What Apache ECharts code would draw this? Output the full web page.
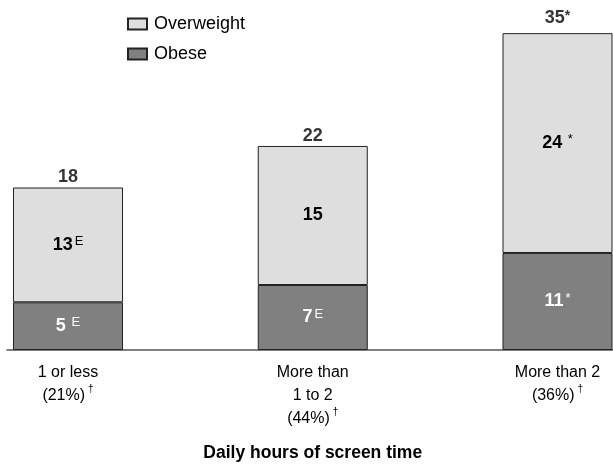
<!DOCTYPE html>
<html>
<head>
<meta charset="utf-8">
<script src="https://cdn.jsdelivr.net/npm/echarts@6/dist/echarts.min.js"></script>
<style>
html,body{margin:0;padding:0;background:#fff;}
#c{width:613px;height:464px;}
</style>
</head>
<body>
<div id="c"></div>
<script>
// ---- data ----
const categoryLines = [['1 or less', '(21%)'], ['More than', '1 to 2', '(44%)'], ['More than 2', '(36%)']];
const categoryMarks = ['†', '†', '†'];
const obese = [5.27, 7.18, 10.72];
const overweight = [12.68, 15.36, 24.28];
const totals = [17.95, 22.54, 35.0];
const obeseLabels = ['5', '7', '11'];
const obeseMarks = [' E', 'E', '*'];
const overweightLabels = ['13', '15', '24'];
const overweightMarks = ['E', '', ' *'];
const totalLabels = ['18', '22', '35'];
const totalMarks = ['', '', '*'];
const seriesNames = ['Overweight', 'Obese'];
const axisTitle = 'Daily hours of screen time';

const FONT = "'Liberation Sans Narrow', 'Liberation Sans', Arial, sans-serif";
const catIds = categoryLines.map((l, i) => 'c' + i);

const chart = echarts.init(document.getElementById('c'), null, {renderer: 'canvas'});

function numRich(color) {
  return {
    n: {fontFamily: FONT, fontSize: 18, fontWeight: 'bold', color: color, lineHeight: 20},
    s: {fontFamily: FONT, fontSize: 13, color: color, verticalAlign: 'top', lineHeight: 13, padding: [0, 0, 0, 2]}
  };
}

const option = {
  animation: false,
  backgroundColor: '#ffffff',
  legend: {
    orient: 'vertical',
    left: 127, top: 15, padding: 0,
    itemWidth: 19, itemHeight: 11, itemGap: 12,
    icon: 'rect',
    textStyle: {fontFamily: FONT, fontSize: 18, color: '#000', padding: [0, 0, 0, 2]},
    data: seriesNames
  },
  grid: [
    {left: 68, right: 55.5, top: 6, bottom: 114, containLabel: false, outerBoundsMode: 'none'},
    {left: 7, right: 0, top: 6, bottom: 114, containLabel: false, outerBoundsMode: 'none'}
  ],
  xAxis: [
    {
      type: 'category', gridIndex: 0, data: catIds, boundaryGap: false,
      axisLine: {show: false}, axisTick: {show: false},
      axisLabel: {
        margin: 11,
        interval: 0,
        formatter: function (v) {
          const i = catIds.indexOf(v);
          const lines = categoryLines[i];
          return lines.map((t, k) => k === lines.length - 1 ? '{t|' + t + '}{d|' + categoryMarks[i] + '}' : '{t|' + t + '}').join('\n');
        },
        rich: {
          t: {fontFamily: FONT, fontSize: 16, color: '#000', lineHeight: 23},
          d: {fontFamily: FONT, fontSize: 10, color: '#000', verticalAlign: 'top', lineHeight: 15, padding: [0, 0, 0, 3]}
        }
      },
      name: axisTitle, nameLocation: 'middle', nameGap: 94,
      nameTextStyle: {fontFamily: FONT, fontSize: 17.5, fontWeight: 'bold', color: '#000'}
    },
    {
      type: 'value', gridIndex: 1, min: 0, max: 1,
      axisLine: {show: true, lineStyle: {color: '#555', width: 1.5}},
      axisTick: {show: false}, axisLabel: {show: false}, splitLine: {show: false}
    }
  ],
  yAxis: [
    {type: 'value', gridIndex: 0, min: 0, max: 38, show: false, splitLine: {show: false}},
    {type: 'value', gridIndex: 1, min: 0, max: 1, show: false, splitLine: {show: false}}
  ],
  series: [
    {
      name: seriesNames[1], type: 'bar', stack: 's', barWidth: 110, clip: false,
      itemStyle: {color: '#808080', borderColor: '#222', borderWidth: 1},
      label: {
        show: true, position: 'inside',
        formatter: p => '{n|' + obeseLabels[p.dataIndex] + '}{s|' + obeseMarks[p.dataIndex] + '}',
        rich: numRich('#fff')
      },
      data: obese
    },
    {
      name: seriesNames[0], type: 'bar', stack: 's', barWidth: 110, clip: false,
      itemStyle: {color: '#dedede', borderColor: '#222', borderWidth: 1},
      label: {
        show: true, position: 'inside',
        formatter: p => '{n|' + overweightLabels[p.dataIndex] + '}' + (overweightMarks[p.dataIndex] ? '{s|' + overweightMarks[p.dataIndex] + '}' : ''),
        rich: numRich('#000')
      },
      data: overweight
    },
    {
      type: 'scatter', symbolSize: 0, silent: true, clip: false,
      label: {
        show: true, position: 'top', distance: 1,
        formatter: p => '{n|' + totalLabels[p.dataIndex] + '}' + (totalMarks[p.dataIndex] ? '{s|' + totalMarks[p.dataIndex] + '}' : ''),
        rich: {
          n: {fontFamily: FONT, fontSize: 18, fontWeight: 'bold', color: '#000', lineHeight: 18},
          s: {fontFamily: FONT, fontSize: 14, fontWeight: 'bold', color: '#000', verticalAlign: 'top', lineHeight: 12}
        }
      },
      data: totals.map((t, i) => totalMarks[i] ? {value: t, label: {offset: [0, -5]}} : t)
    }
  ]
};
chart.setOption(option);
</script>
</body>
</html>
